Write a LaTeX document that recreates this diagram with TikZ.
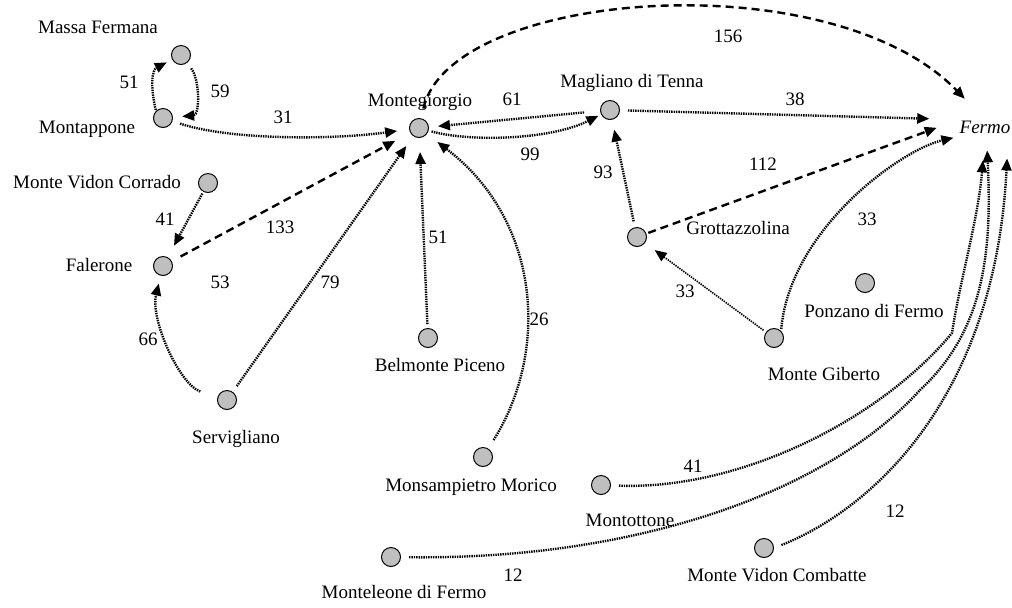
\documentclass[tikz,border=0pt]{standalone}
\usepackage{fontspec}
\setmainfont{Liberation Serif}
\usetikzlibrary{arrows.meta}

\begin{document}
\begin{tikzpicture}[x=0.5pt,y=-0.5pt,font=\fontsize{9.5}{11}\selectfont,
  town/.style={circle,draw,fill=gray!50,minimum size=9.5pt,inner sep=0pt,line width=0.5pt},
  lbl/.style={inner sep=0pt,text height=1.5ex,text depth=0.25ex},
  road/.style={line width=1.2pt,dash pattern=on 0.7pt off 0.5pt,
    -{Triangle[length=6pt,width=5pt]},shorten >=6pt,shorten <=3pt},
  fast/.style={line width=1.2pt,dash pattern=on 4pt off 2.5pt,
    -{Triangle[length=6pt,width=5pt]}}]
\useasboundingbox (0,0) rectangle (1012,607);

\foreach \n/\x/\y/\lx/\ly/\t in {mf/181/55/98/28/{Massa Fermana},
  mp/163/118/87/128/{Montappone}, mvr/208/183/97/183/{Monte Vidon Corrado},
  fa/163/266/99/266/{Falerone}, sv/227/400/236/438/{Servigliano},
  mg/419/128/420/101/{Montegiorgio}, mt/610/110/632/82/{Magliano di Tenna},
  gr/637/237/738/229/{Grottazzolina}, pz/865/283/874/312/{Ponzano di Fermo},
  mgb/774/338/824/375/{Monte Giberto}, bp/428/338/440/366/{Belmonte Piceno},
  ms/483/457/471/486/{Monsampietro Morico}, mo/601/485/630/521/{Montottone},
  ml/391/557/404/593/{Monteleone di Fermo}, mvb/764/548/777/576/{Monte Vidon Combatte}}
{\node[town] (\n) at (\x,\y) {};
 \node[lbl] (\n-l) at (\lx,\ly) {\t};}
\node[lbl] (fermo) at (985,128) {\itshape Fermo};

\foreach \n/\x/\y/\t in {a/129/83/51, b/220/92/59, c/283/118/31, d/728/37/156,
  e/512/100/61, f/530/155/99, g/795/100/38, h/763/165/112, i/603/173/93,
  j/685/292/33, k/867/220/33, l/165/220/41, m/280/228/133, n/220/283/53,
  o/330/283/79, p/148/340/66, q/438/238/51, r/539/320/26, s/693/467/41,
  t/513/576/12, u/895/512/12}
{\node[lbl] (w\n) at (\x,\y) {\t};}

\draw[road,shorten <=0.5pt,shorten >=3pt] (mp.135) .. controls (150,85) and (152,70) .. (mf);
\draw[road,shorten <=3.4pt,shorten >=4.6pt] (mf) .. controls (200,80) and (200,115) .. (mp);
\draw[road,shorten <=4pt] (mp) .. controls (230,140) and (330,140) .. (mg);
\draw[fast,shorten <=5pt,shorten >=14.5pt] (mg) .. controls (450,-10) and (830,-40) .. (fermo.north);
\draw[road,shorten <=8pt,shorten >=4.5pt] (mt) -- (mg);
\draw[road,shorten <=1.5pt,shorten >=1.5pt] (mg) .. controls (470,142) and (550,140) .. (mt);
\draw[road,shorten <=4pt,shorten >=15pt] (mt) -- (fermo.north west);
\draw[fast,shorten <=1pt,shorten >=12pt] (gr) -- (fermo.north west);
\draw[road,shorten >=5pt] (gr) -- (mt);
\draw[road,line width=0.8pt,shorten <=1.5pt] (mgb) -- (gr);
\draw[road,shorten <=1pt,shorten >=3pt] (mgb.45) .. controls (790,230) and (900,150) .. (fermo.south west);
\draw[road,shorten <=4pt,shorten >=12pt] (mo) .. controls (740,490) and (880,420) .. (952,333)
  .. controls (960,280) and (978,220) .. (fermo.south);
\draw[road,shorten <=4pt,shorten >=7pt] (ml) .. controls (640,560) and (830,490) .. (920,390)
  .. controls (985,330) and (992,250) .. (fermo.-80);
\draw[road,shorten <=4pt,shorten >=11pt] (mvb.east) .. controls (870,510) and (995,400) .. (fermo.-20);
\draw[road,shorten <=1pt,shorten >=6.5pt] (mvr) -- (fa);
\draw[fast,shorten <=5pt,shorten >=8.5pt] (fa) -- (mg);
\draw[road,shorten <=9pt,shorten >=4pt] (sv) .. controls (180,385) and (150,320) .. (fa);
\draw[road,shorten <=3.5pt] (sv) -- (mg);
\draw[road,shorten <=2pt,shorten >=7pt] (bp) -- (mg);
\draw[road,shorten <=5pt,shorten >=6.5pt] (ms) .. controls (550,350) and (540,220) .. (mg);

\end{tikzpicture}
\end{document}
